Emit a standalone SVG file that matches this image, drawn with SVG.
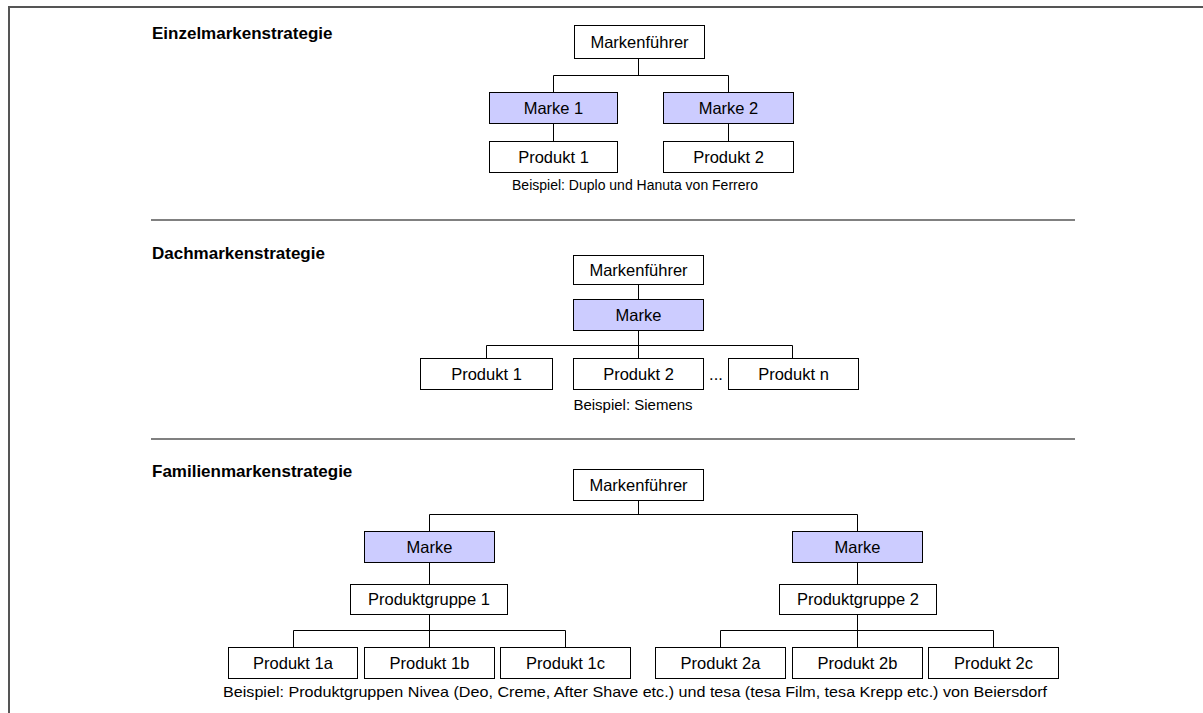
<svg xmlns="http://www.w3.org/2000/svg" width="1203" height="713" viewBox="0 0 1203 713">
  <style>
    .box { fill: #ffffff; stroke: #000000; stroke-width: 1; }
    .brand { fill: #ccccff; stroke: #000000; stroke-width: 1; }
    .lbl { font-family: "Liberation Sans", Arial, sans-serif; font-size: 16.5px; fill: #000; text-anchor: middle; }
    .title { font-family: "Liberation Sans", Arial, sans-serif; font-size: 17px; font-weight: bold; fill: #000; }
    .note { font-family: "Liberation Sans", Arial, sans-serif; fill: #000; text-anchor: middle; }
    .conn { fill: none; stroke: #000000; stroke-width: 1; }
    .sep { stroke: #808080; stroke-width: 2; }
    .frame { fill: none; stroke: #555555; stroke-width: 2; }
  </style>
  <rect width="1203" height="713" fill="#ffffff"/>

  <!-- outer frame (top and left edge) -->
  <path class="frame" d="M9,713 V7 H1203"/>

  <!-- section separators -->
  <line class="sep" x1="151" y1="220" x2="1075" y2="220"/>
  <line class="sep" x1="151" y1="439" x2="1075" y2="439"/>

  <!-- section titles -->
  <text class="title" x="152" y="39">Einzelmarkenstrategie</text>
  <text class="title" x="152" y="259">Dachmarkenstrategie</text>
  <text class="title" x="152" y="477">Familienmarkenstrategie</text>

  <!-- connectors -->
  <g id="connectors">
    <!-- Einzelmarkenstrategie -->
    <path class="conn" d="M638.5,58 V75.5 M553.5,92 V75.5 H728.5 V92 M553.5,124 V141 M728.5,124 V141"/>
    <!-- Dachmarkenstrategie -->
    <path class="conn" d="M638.5,284 V299 M638.5,331 V345.5 M486.5,358 V345.5 H792.5 V358 M638.5,345.5 V358"/>
    <!-- Familienmarkenstrategie -->
    <path class="conn" d="M638.5,501 V514.5 M429.5,531 V514.5 H857.5 V531 M429.5,563 V584 M857.5,563 V584"/>
    <path class="conn" d="M429.5,615 V647 M293.5,647 V630.5 H565.5 V647"/>
    <path class="conn" d="M857.5,615 V647 M720.5,647 V630.5 H993.5 V647"/>
  </g>

  <!-- Einzelmarkenstrategie -->
  <g id="e-fuehrer"><rect class="box" x="574.5" y="25.5" width="130" height="33"/><text class="lbl" x="639.5" y="48">Markenführer</text></g>
  <g id="e-marke1"><rect class="brand" x="489.5" y="92.5" width="128" height="31"/><text class="lbl" x="553.5" y="114">Marke 1</text></g>
  <g id="e-marke2"><rect class="brand" x="663.5" y="92.5" width="130" height="31"/><text class="lbl" x="728.5" y="114">Marke 2</text></g>
  <g id="e-produkt1"><rect class="box" x="489.5" y="141.5" width="128" height="31"/><text class="lbl" x="553.5" y="163">Produkt 1</text></g>
  <g id="e-produkt2"><rect class="box" x="663.5" y="141.5" width="130" height="31"/><text class="lbl" x="728.5" y="163">Produkt 2</text></g>
  <text class="note" x="635" y="190" font-size="14">Beispiel: Duplo und Hanuta von Ferrero</text>

  <!-- Dachmarkenstrategie -->
  <g id="d-fuehrer"><rect class="box" x="573.5" y="255.5" width="130" height="29"/><text class="lbl" x="638.5" y="276">Markenführer</text></g>
  <g id="d-marke"><rect class="brand" x="573.5" y="299.5" width="130" height="31"/><text class="lbl" x="638.5" y="321">Marke</text></g>
  <g id="d-produkt1"><rect class="box" x="420.5" y="358.5" width="132" height="31"/><text class="lbl" x="486.5" y="380">Produkt 1</text></g>
  <g id="d-produkt2"><rect class="box" x="573.5" y="358.5" width="130" height="31"/><text class="lbl" x="638.5" y="380">Produkt 2</text></g>
  <text class="lbl" x="716" y="380">...</text>
  <g id="d-produktn"><rect class="box" x="728.5" y="358.5" width="130" height="31"/><text class="lbl" x="793.5" y="380">Produkt n</text></g>
  <text class="note" x="633" y="410" font-size="15">Beispiel: Siemens</text>

  <!-- Familienmarkenstrategie -->
  <g id="f-fuehrer"><rect class="box" x="573.5" y="469.5" width="130" height="31"/><text class="lbl" x="638.5" y="491">Markenführer</text></g>
  <g id="f-marke1"><rect class="brand" x="364.5" y="531.5" width="130" height="31"/><text class="lbl" x="429.5" y="553">Marke</text></g>
  <g id="f-marke2"><rect class="brand" x="792.5" y="531.5" width="130" height="31"/><text class="lbl" x="857.5" y="553">Marke</text></g>
  <g id="f-gruppe1"><rect class="box" x="350.5" y="584.5" width="157" height="30"/><text class="lbl" x="429" y="605">Produktgruppe 1</text></g>
  <g id="f-gruppe2"><rect class="box" x="779.5" y="584.5" width="157" height="30"/><text class="lbl" x="858" y="605">Produktgruppe 2</text></g>
  <g id="f-produkt1a"><rect class="box" x="228.5" y="647.5" width="129" height="31"/><text class="lbl" x="293" y="669">Produkt 1a</text></g>
  <g id="f-produkt1b"><rect class="box" x="364.5" y="647.5" width="130" height="31"/><text class="lbl" x="429.5" y="669">Produkt 1b</text></g>
  <g id="f-produkt1c"><rect class="box" x="500.5" y="647.5" width="130" height="31"/><text class="lbl" x="565.5" y="669">Produkt 1c</text></g>
  <g id="f-produkt2a"><rect class="box" x="655.5" y="647.5" width="130" height="31"/><text class="lbl" x="720.5" y="669">Produkt 2a</text></g>
  <g id="f-produkt2b"><rect class="box" x="792.5" y="647.5" width="130" height="31"/><text class="lbl" x="857.5" y="669">Produkt 2b</text></g>
  <g id="f-produkt2c"><rect class="box" x="928.5" y="647.5" width="130" height="31"/><text class="lbl" x="993.5" y="669">Produkt 2c</text></g>
  <text class="note" x="635" y="697" font-size="15" textLength="824" lengthAdjust="spacingAndGlyphs">Beispiel: Produktgruppen Nivea (Deo, Creme, After Shave etc.) und tesa (tesa Film, tesa Krepp etc.) von Beiersdorf</text>
</svg>
